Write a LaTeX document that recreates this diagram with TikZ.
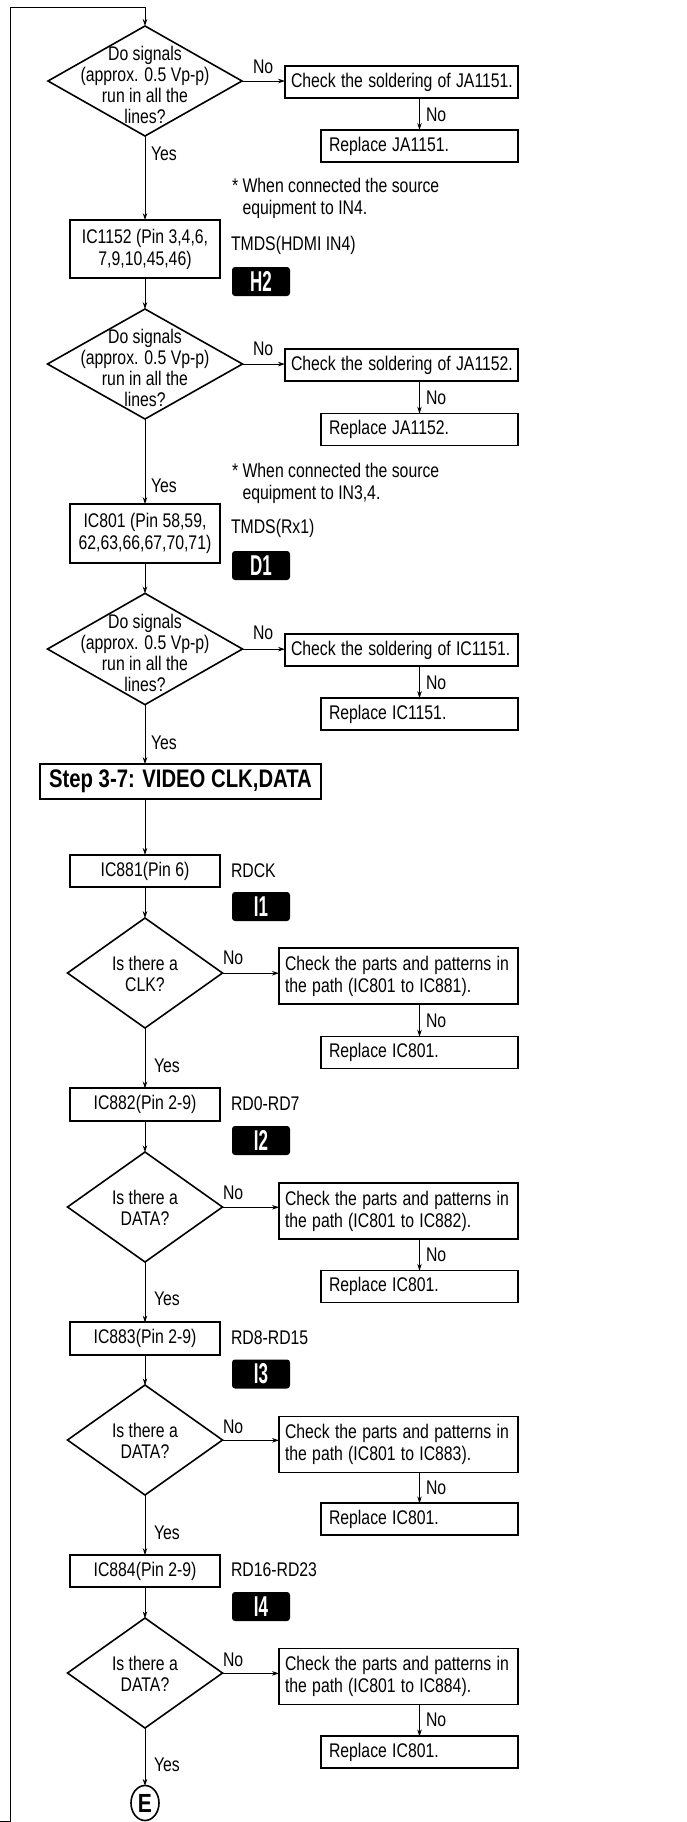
\documentclass[tikz,border=0pt]{standalone}
\usepackage{fontspec}
\setmainfont{Liberation Sans}
\usetikzlibrary{shapes.geometric,arrows.meta,calc}
\newcommand\fsm{\fontsize{15.8}{17.6}\selectfont}
\newcommand\fsd{\fontsize{15.8}{16.8}\selectfont}
\begin{document}
\begin{tikzpicture}[x=1pt,y=-0.8pt,yscale=1.25,
  every node/.style={transform shape,font=\fsm,inner sep=0pt,outer sep=0pt},
  box/.style={draw,line width=1.6pt},
  ck/.style={box,align=left,text width=221pt,inner xsep=6pt,minimum height=25.6pt},
  ckk/.style={box,align=left,text width=227pt,inner xsep=6pt,minimum height=44.8pt},
  rp/.style={box,align=left,text width=181pt,inner xsep=8pt,minimum height=25.6pt},
  ic/.style={box,align=center,minimum width=150pt,minimum height=26pt},
  dia/.style={diamond,draw,line width=1.6pt,minimum height=88pt},
  dtext/.style={align=center,font=\fsd},
  badge/.style={fill=black,rounded corners=3pt,minimum width=58pt,minimum height=23.2pt,text=white,font=\fontsize{17}{17}\selectfont\bfseries},
  conn/.style={line width=0.8pt,-{Stealth[length=7pt,width=4.5pt]}},
  wire/.style={line width=0.8pt},
  lab/.style={anchor=west},
]
\useasboundingbox (0,0) rectangle (686,1822);

% ---------- loop-back line ----------
\coordinate (lb) at (0,1821);
\coordinate (lc) at (10,1821);
\coordinate (lt) at (10,7);

% ---------- block 1 ----------
\node[dia,minimum width=194pt] (d1) at (145,81) {};
\node[dtext] (d1t) at (145,85) {Do signals\\(approx. 0.5 Vp-p)\\run in all the\\lines?};
\node[ck] (c1) at (401.5,82) {\mbox{Check the soldering of JA1151.}};
\node[rp] (r1) at (419.5,146) {\mbox{Replace JA1151.}};
\node[lab] (n1a) at (253,67) {No};
\node[lab] (n1b) at (426,115) {No};
\node[lab] (y1) at (151,154) {Yes};
\node[ic,minimum height=46.4pt] (i1) at (145,249) {IC1152 (Pin 3,4,6,\\7,9,10,45,46)};
\node[lab,align=left] (note1) at (232,198.5) {* When connected the source\\\hphantom{*\ }equipment to IN4.};
\node[lab] (s1) at (231,245) {TMDS(HDMI IN4)};
\node[badge] (b1) at (261,281.5) {\scalebox{1}[1.35]{H2}};

\draw[wire] (lb) -- (lc) -- (lt);
\draw[conn] (lt) -| (d1.north);
\draw[conn] (d1.east) -- (d1.east -| c1.west);
\draw[conn] (r1.north |- c1.south) -- (r1.north);
\draw[conn] (d1.south) -- (i1.north);

% ---------- block 2 ----------
\node[dia,minimum width=195pt] (d2) at (145,364) {};
\node[dtext] (d2t) at (145,368) {Do signals\\(approx. 0.5 Vp-p)\\run in all the\\lines?};
\node[ck] (c2) at (401.5,365) {\mbox{Check the soldering of JA1152.}};
\node[rp] (r2) at (419.5,429.5) {\mbox{Replace JA1152.}};
\node[lab] (n2a) at (253,349) {No};
\node[lab] (n2b) at (426,398) {No};
\node[lab] (y2) at (151,486) {Yes};
\node[ic,minimum height=47.2pt] (i2) at (145,533.5) {IC801 (Pin 58,59,\\62,63,66,67,70,71)};
\node[lab,align=left] (note2) at (232,483.5) {* When connected the source\\\hphantom{*\ }equipment to IN3,4.};
\node[lab] (s2) at (231,528) {TMDS(Rx1)};
\node[badge] (b2) at (261,565.5) {\scalebox{1}[1.35]{D1}};

\draw[conn] (i1.south) -- (d2.north);
\draw[conn] (d2.east) -- (d2.east -| c2.west);
\draw[conn] (r2.north |- c2.south) -- (r2.north);
\draw[conn] (d2.south) -- (i2.north);

% ---------- block 3 ----------
\node[dia,minimum width=195pt,minimum height=89pt] (d3) at (145,649) {};
\node[dtext] (d3t) at (145,653) {Do signals\\(approx. 0.5 Vp-p)\\run in all the\\lines?};
\node[ck] (c3) at (401.5,650) {\mbox{Check the soldering of IC1151.}};
\node[rp] (r3) at (419.5,714) {\mbox{Replace IC1151.}};
\node[lab] (n3a) at (253,633) {No};
\node[lab] (n3b) at (426,683) {No};
\node[lab] (y3) at (151,743) {Yes};
\node[box,minimum width=281pt,minimum height=28pt,font=\fontsize{20.3}{22}\selectfont\bfseries] (st) at (180.5,781.5) {Step 3-7: VIDEO CLK,DATA};

\draw[conn] (i2.south) -- (d3.north);
\draw[conn] (d3.east) -- (d3.east -| c3.west);
\draw[conn] (r3.north |- c3.south) -- (r3.north);
\draw[conn] (d3.south) -- (d3.south |- st.north);

% ---------- block 4 (CLK) ----------
\node[ic] (i4) at (145,871) {IC881(Pin 6)};
\node[lab] (s4) at (231,871) {RDCK};
\node[badge] (b4) at (261,906.5) {\scalebox{1}[1.35]{I1}};
\node[dia,minimum width=155pt] (d4) at (145,973) {};
\node[dtext] (d4t) at (145,974) {Is there a\\CLK?};
\node[ckk] (c4) at (398.5,976) {\mbox{Check the parts and patterns in}\\\mbox{the path (IC801 to IC881).}};
\node[rp] (r4) at (419.5,1052.5) {\mbox{Replace IC801.}};
\node[lab] (n4a) at (223,958) {No};
\node[lab] (n4b) at (426,1021) {No};
\node[lab] (y4) at (154,1066) {Yes};

\draw[conn] (d3.south |- st.south) -- (i4.north);
\draw[conn] (i4.south) -- (d4.north);
\draw[conn] (d4.east) -- (d4.east -| c4.west);
\draw[conn] (r4.north |- c4.south) -- (r4.north);

% ---------- block 5 ----------
\node[ic] (i5) at (145,1104.5) {IC882(Pin 2-9)};
\node[lab] (s5) at (231,1104) {RD0-RD7};
\node[badge] (b5) at (261,1140.5) {\scalebox{1}[1.35]{I2}};
\node[dia,minimum width=155pt] (d5) at (145,1207) {};
\node[dtext] (d5t) at (145,1208) {Is there a\\DATA?};
\node[ckk] (c5) at (398.5,1211) {\mbox{Check the parts and patterns in}\\\mbox{the path (IC801 to IC882).}};
\node[rp] (r5) at (419.5,1286.5) {\mbox{Replace IC801.}};
\node[lab] (n5a) at (223,1193) {No};
\node[lab] (n5b) at (426,1255) {No};
\node[lab] (y5) at (154,1299) {Yes};

\draw[conn] (d4.south) -- (i5.north);
\draw[conn] (i5.south) -- (d5.north);
\draw[conn] (d5.east) -- (d5.east -| c5.west);
\draw[conn] (r5.north |- c5.south) -- (r5.north);

% ---------- block 6 ----------
\node[ic] (i6) at (145,1338.5) {IC883(Pin 2-9)};
\node[lab] (s6) at (231,1338) {RD8-RD15};
\node[badge] (b6) at (261,1374) {\scalebox{1}[1.35]{I3}};
\node[dia,minimum width=155pt] (d6) at (145,1440) {};
\node[dtext] (d6t) at (145,1441) {Is there a\\DATA?};
\node[ckk] (c6) at (398.5,1444.5) {\mbox{Check the parts and patterns in}\\\mbox{the path (IC801 to IC883).}};
\node[rp] (r6) at (419.5,1519) {\mbox{Replace IC801.}};
\node[lab] (n6a) at (223,1427) {No};
\node[lab] (n6b) at (426,1488) {No};
\node[lab] (y6) at (154,1533) {Yes};

\draw[conn] (d5.south) -- (i6.north);
\draw[conn] (i6.south) -- (d6.north);
\draw[conn] (d6.east) -- (d6.east -| c6.west);
\draw[conn] (r6.north |- c6.south) -- (r6.north);

% ---------- block 7 ----------
\node[ic] (i7) at (145,1571) {IC884(Pin 2-9)};
\node[lab] (s7) at (231,1570) {RD16-RD23};
\node[badge] (b7) at (261,1606.5) {\scalebox{1}[1.35]{I4}};
\node[dia,minimum width=155pt] (d7) at (145,1673) {};
\node[dtext] (d7t) at (145,1674) {Is there a\\DATA?};
\node[ckk] (c7) at (398.5,1676.5) {\mbox{Check the parts and patterns in}\\\mbox{the path (IC801 to IC884).}};
\node[rp] (r7) at (419.5,1752) {\mbox{Replace IC801.}};
\node[lab] (n7a) at (223,1660) {No};
\node[lab] (n7b) at (426,1720) {No};
\node[lab] (y7) at (154,1765) {Yes};
\node[circle,draw,line width=1.6pt,minimum size=28pt,font=\fontsize{21}{21}\selectfont\bfseries] (E) at (145,1803) {E};

\draw[conn] (d6.south) -- (i7.north);
\draw[conn] (i7.south) -- (d7.north);
\draw[conn] (d7.east) -- (d7.east -| c7.west);
\draw[conn] (r7.north |- c7.south) -- (r7.north);
\draw[conn] (d7.south) -- (E.north);
\end{tikzpicture}
\end{document}
